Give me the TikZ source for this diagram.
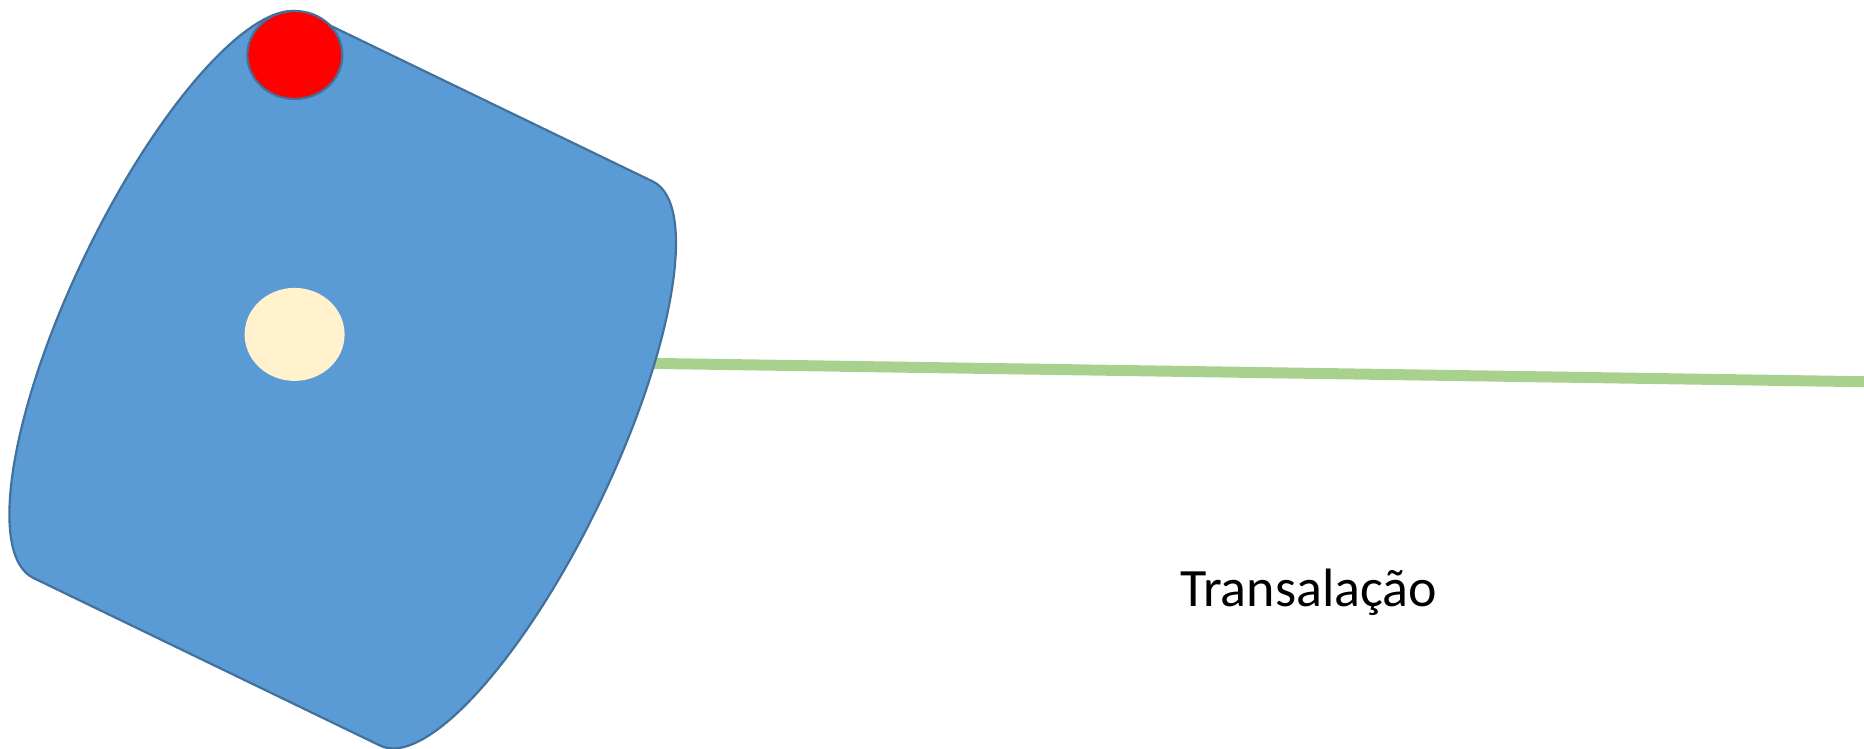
\documentclass[tikz,border=0pt]{standalone}
\usepackage{fontspec}
\setmainfont{Carlito}
\usetikzlibrary{shapes.geometric}
\definecolor{canfill}{HTML}{5B9BD5}
\definecolor{canedge}{HTML}{41719C}
\definecolor{dotred}{HTML}{FF0000}
\definecolor{dotcream}{HTML}{FFF2CC}
\definecolor{track}{HTML}{A9D18E}
\tikzset{
  canbody/.style={fill=canfill, draw=canedge, line width=2.2pt, line join=round},
  reddot/.style={ellipse, fill=dotred, draw=canedge, line width=2.2pt, inner sep=0pt, minimum width=95pt, minimum height=88pt},
  creamdot/.style={ellipse, fill=dotcream, draw=none, inner sep=0pt, minimum width=100pt, minimum height=93pt},
  trackline/.style={draw=track, line width=11pt},
  caption/.style={font=\fontsize{54}{60}\selectfont, inner sep=0pt, anchor=base west}
}
\begin{document}
\begin{tikzpicture}[x=1pt,y=-1pt]
\useasboundingbox (0,0) rectangle (1864,749);
% translation path
\coordinate (trackstart) at (560,362);
\coordinate (trackend) at (1864,381.7);
\draw[trackline] (trackstart) -- (trackend);
% tilted cylinder: two straight sides joined by half ellipses
\begin{scope}[shift={(169.9,296)}, rotate=-25.8]
  \draw[canbody] (0pt,313.3pt) -- (384.9pt,313.3pt)
    arc[start angle=90, end angle=-90, x radius=92pt, y radius=313.3pt]
    -- (0pt,-313.3pt)
    arc[start angle=-90, end angle=-270, x radius=94pt, y radius=313.3pt]
    -- cycle;
\end{scope}
% markers on the body
\node[creamdot] (centre) at (294.6,334.4) {};
\node[reddot] (marker) at (294.8,55) {};
% label
\node[caption] (label) at (1180,606.7) {Transalação};
\end{tikzpicture}
\end{document}
